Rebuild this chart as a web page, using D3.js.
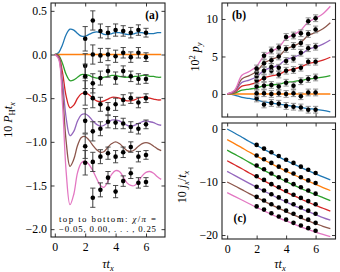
<!DOCTYPE html>
<html>
<head>
<meta charset="utf-8">
<script src="https://cdn.jsdelivr.net/npm/d3@7"></script>
<style>
    body { margin: 0; background: #fff; }
    svg text { font-family: "Liberation Serif", "DejaVu Serif", serif; fill: #000; }
    .tick text { font-size: 11.8px; }
</style>
</head>
<body>
<svg id="fig" width="340" height="272"></svg>
<script>
// colours, top to bottom chi/pi = -0.05 ... 0.25
const colors = ["#1f77b4", "#ff7f0e", "#2ca02c", "#d62728", "#9467bd", "#8c564b", "#e377c2"];

// panel (a): 10 P_H t_x
const gridA = [0, 0.25, 0.5, 0.75, 1, 1.25, 1.5, 1.75, 2, 2.25, 2.5, 2.75, 3, 3.25, 3.5, 3.75, 4, 4.25, 4.5, 4.75, 5, 5.25, 5.5, 5.75, 6, 6.25, 6.5, 6.75, 7];
const aBlue   = [0, 0.02, 0.11, 0.23, 0.29, 0.28, 0.24, 0.21, 0.21, 0.23, 0.25, 0.26, 0.25, 0.23, 0.23, 0.24, 0.25, 0.25, 0.24, 0.23, 0.23, 0.24, 0.25, 0.25, 0.24, 0.24, 0.24, 0.25, 0.25];
const aOrange = [0, 0, 0, 0, 0, 0, 0, 0, 0, 0, 0, 0, 0, 0, 0, 0, 0, 0, 0, 0, 0, 0, 0, 0, 0, 0, 0, 0, 0];
const aGreen  = [0, -0.01, -0.1, -0.23, -0.3, -0.29, -0.26, -0.23, -0.23, -0.24, -0.26, -0.27, -0.27, -0.26, -0.25, -0.24, -0.24, -0.25, -0.26, -0.26, -0.26, -0.25, -0.25, -0.24, -0.24, -0.25, -0.25, -0.26, -0.26];
const aRed    = [0, -0.02, -0.2, -0.48, -0.61, -0.58, -0.5, -0.45, -0.44, -0.46, -0.5, -0.53, -0.54, -0.53, -0.51, -0.49, -0.49, -0.5, -0.52, -0.53, -0.53, -0.52, -0.5, -0.49, -0.49, -0.5, -0.51, -0.52, -0.52];
const aPurple = [0, -0.03, -0.3, -0.73, -0.93, -0.88, -0.76, -0.69, -0.68, -0.71, -0.76, -0.8, -0.82, -0.81, -0.78, -0.75, -0.75, -0.76, -0.79, -0.81, -0.82, -0.81, -0.79, -0.77, -0.76, -0.77, -0.78, -0.8, -0.81];
const aBrown  = [0, -0.04, -0.42, -1.0, -1.28, -1.2, -1.04, -0.95, -0.94, -0.98, -1.04, -1.09, -1.12, -1.11, -1.06, -1.02, -1.0, -1.02, -1.06, -1.1, -1.11, -1.09, -1.05, -1.02, -1.01, -1.02, -1.05, -1.08, -1.1];
const aPink   = [0, -0.05, -0.55, -1.35, -1.72, -1.6, -1.35, -1.24, -1.22, -1.26, -1.33, -1.42, -1.5, -1.52, -1.45, -1.37, -1.33, -1.34, -1.4, -1.47, -1.5, -1.5, -1.45, -1.39, -1.35, -1.34, -1.36, -1.4, -1.43];

const ptX = [2, 2.5, 3, 3.5, 4, 4.5, 5, 5.5, 6];
const aPtBlue   = [0.18, 0.39, 0.27, 0.25, 0.28, 0.27, 0.25, 0.28, 0.25];
const aPtOrange = [-0.13, 0.0, -0.01, 0.0, -0.02, 0.02, -0.03, 0.02, -0.03];
const aPtGreen  = [-0.25, -0.33, -0.27, -0.19, -0.27, -0.19, -0.25, -0.28, -0.28];
const aPtRed    = [-0.44, -0.5, -0.57, -0.62, -0.57, -0.52, -0.5, -0.55, -0.5];
const aPtPurple = [-0.76, -0.88, -0.85, -0.77, -0.78, -0.79, -0.83, -0.85, -0.8];
const aPtBrown  = [-1.05, -1.23, -1.17, -1.13, -1.17, -1.12, -1.06, -1.17, -1.15];
const aPtPink   = [-1.24, -1.64, -1.55, -1.41, -1.57, -1.45, -1.36, -1.47, -1.46];
const aErr      = [0.14, 0.11, 0.08, 0.07, 0.07, 0.06, 0.06, 0.06, 0.05];

// panel (b): 10^2 p_y
const gridBC = [0, 0.5, 1, 1.5, 2, 2.5, 3, 3.5, 4, 4.5, 5, 5.5, 6, 6.5, 7];
const bBlue   = [0, -0.15, -0.45, -0.6, -0.8, -1.05, -1.2, -1.35, -1.5, -1.65, -1.8, -1.95, -2.05, -2.2, -2.4];
const bOrange = [0, 0, 0, 0, 0, 0, 0, 0, 0, 0, 0, 0, 0, 0, 0];
const bGreen  = [0, 0.1, 0.5, 0.65, 0.8, 1.1, 1.2, 1.3, 1.55, 1.65, 1.8, 2.0, 2.1, 2.25, 2.45];
const bRed    = [0, 0.2, 1.05, 1.25, 1.55, 2.15, 2.4, 2.6, 3.1, 3.3, 3.6, 4.05, 4.25, 4.5, 4.9];
const bPurple = [0, 0.3, 1.55, 1.85, 2.3, 3.15, 3.5, 3.85, 4.6, 4.9, 5.3, 5.95, 6.25, 6.65, 7.2];
const bBrown  = [0, 0.4, 2.0, 2.45, 3.0, 4.1, 4.6, 5.0, 6.0, 6.4, 6.9, 7.8, 8.2, 8.7, 9.5];
const bPink   = [0, 0.5, 2.5, 3.0, 3.7, 5.1, 5.7, 6.2, 7.4, 7.9, 8.5, 9.6, 10.1, 10.7, 11.7];

const bPtBlue   = [-0.6, -1.4, -1.2, -1.3, -1.6, -1.7, -1.8, -2.1, -2.1];
const bPtOrange = [0.1, 0.1, 0.0, 0.1, 0.0, 0.1, -0.3, 0.2, 0.2];
const bPtGreen  = [1.0, 1.1, 1.2, 1.0, 1.5, 1.1, 1.7, 2.0, 2.2];
const bPtRed    = [1.8, 2.1, 3.1, 2.6, 3.1, 3.2, 3.5, 4.3, 4.3];
const bPtPurple = [2.4, 3.1, 3.6, 3.5, 4.4, 4.7, 5.5, 6.1, 6.3];
const bPtBrown  = [2.9, 4.1, 4.5, 5.0, 6.0, 6.4, 6.8, 8.0, 8.6];
const bPtPink   = [3.4, 5.1, 5.8, 6.2, 7.6, 7.8, 8.1, 9.7, 10.1];
const bErr      = [0.45, 0.45, 0.45, 0.45, 0.45, 0.45, 0.45, 0.45, 0.45];

// panel (c): 10 j_x / t_x
const cBlue   = [0, -0.75, -1.55, -2.35, -3.1, -3.85, -4.55, -5.25, -5.95, -6.6, -7.25, -7.85, -8.45, -9.05, -9.6];
const cOrange = [-2, -2.75, -3.55, -4.35, -5.1, -5.85, -6.55, -7.25, -7.95, -8.6, -9.25, -9.85, -10.45, -11.05, -11.6];
const cGreen  = [-4, -4.75, -5.5, -6.3, -7.05, -7.8, -8.5, -9.2, -9.9, -10.55, -11.2, -11.8, -12.4, -12.95, -13.5];
const cRed    = [-6, -6.75, -7.5, -8.3, -9.05, -9.8, -10.5, -11.2, -11.9, -12.55, -13.2, -13.8, -14.4, -14.95, -15.5];
const cPurple = [-8, -8.75, -9.5, -10.25, -11.0, -11.7, -12.4, -13.1, -13.75, -14.4, -15.0, -15.6, -16.15, -16.7, -17.2];
const cBrown  = [-10, -10.7, -11.45, -12.2, -12.9, -13.6, -14.3, -14.95, -15.6, -16.2, -16.8, -17.35, -17.85, -18.35, -18.8];
const cPink   = [-12, -12.7, -13.4, -14.1, -14.8, -15.45, -16.1, -16.75, -17.35, -17.9, -18.45, -18.95, -19.45, -19.9, -20.3];

const cPtBlue   = [-3.0, -3.7, -4.4, -5.1, -5.8, -6.4, -7.1, -7.7, -8.3];
const cPtOrange = [-5.0, -5.7, -6.4, -7.1, -7.8, -8.4, -9.1, -9.7, -10.2];
const cPtGreen  = [-6.9, -7.6, -8.4, -9.1, -9.7, -10.4, -11.0, -11.6, -12.2];
const cPtRed    = [-8.9, -9.6, -10.4, -11.0, -11.7, -12.4, -13.0, -13.6, -14.2];
const cPtPurple = [-10.9, -11.6, -12.3, -12.9, -13.6, -14.2, -14.8, -15.4, -16.0];
const cPtBrown  = [-12.8, -13.5, -14.2, -14.8, -15.4, -16.0, -16.6, -17.1, -17.7];
const cPtPink   = [-14.6, -15.2, -15.9, -16.5, -17.1, -17.7, -18.2, -18.7, -19.2];

const svg = d3.select("#fig")

function panel(o) {
    let x = d3.scaleLinear().domain(o.xdom).range([o.left, o.right])
    let y = d3.scaleLinear().domain(o.ydom).range([o.bottom, o.top])
    let g = svg.append("g")

    let line = d3.line()
        .x((d, i) => x(o.grid[i]))
        .y(d => y(d))
        .curve(d3.curveCatmullRom.alpha(0.5))

    o.curves.forEach((c, k) => {
        g.append("path")
            .attr("d", line(c))
            .attr("fill", "none")
            .attr("stroke", colors[k])
            .attr("stroke-width", 1.3)
    })

    o.points.forEach(p => {
        if (o.err) {
            p.forEach((v, i) => {
                let e = o.err[i]
                let xx = x(ptX[i])
                g.append("line").attr("x1", xx).attr("x2", xx)
                    .attr("y1", y(v - e)).attr("y2", y(v + e))
                    .attr("stroke", o.errColor).attr("stroke-width", o.errWidth)
                ;[v - e, v + e].forEach(w => {
                    g.append("line").attr("x1", xx - 2.6).attr("x2", xx + 2.6)
                        .attr("y1", y(w)).attr("y2", y(w))
                        .attr("stroke", o.errColor).attr("stroke-width", 0.9)
                })
            })
        }
        g.selectAll(null).data(p).enter().append("circle")
            .attr("cx", (d, i) => x(ptX[i]))
            .attr("cy", d => y(d))
            .attr("r", 2.3)
            .attr("fill", "#000")
    })

    // axes, ticks pointing in on all four sides
    let ax = [
        [d3.axisBottom(x).tickValues([0, 2, 4, 6]), o.bottom, true, o.xlabels],
        [d3.axisTop(x).tickValues([0, 2, 4, 6]), o.top, true, false],
        [d3.axisLeft(y).tickValues(o.yticks), o.left, false, true],
        [d3.axisRight(y).tickValues(o.yticks), o.right, false, false]
    ]
    ax.forEach(([a, pos, horiz, labels]) => {
        a.tickSize(-3.5).tickPadding(horiz ? 6 : 4)
        if (!labels) a.tickFormat("")
        else if (!horiz) a.tickFormat(o.yfmt)
        let ga = g.append("g")
            .attr("transform", horiz ? `translate(0,${pos})` : `translate(${pos},0)`)
            .call(a)
        ga.select(".domain").remove()
        ga.selectAll(".tick line").attr("stroke", "#222").attr("stroke-width", 0.9)
        ga.selectAll(".tick text").attr("font-family", null).attr("font-size", null)
    })

    g.append("rect")
        .attr("x", o.left).attr("y", o.top)
        .attr("width", o.right - o.left).attr("height", o.bottom - o.top)
        .attr("fill", "none").attr("stroke", "#222").attr("stroke-width", 1.1)

    return g
}

// math-ish label from parts
function mathText(sel, parts) {
    let shift = 0
    parts.forEach(p => {
        let ts = sel.append("tspan").text(p.t)
        if (p.it) ts.attr("font-style", "italic")
        let want = p.sub ? 3 : p.sup ? -4.5 : 0
        if (want !== shift) { ts.attr("dy", want - shift); shift = want }
        if (p.sub || p.sup) ts.attr("font-size", "8.5px")
    })
}

panel({
    left: 51, right: 165, top: 3, bottom: 237,
    xdom: [-0.25, 7.25], ydom: [-2.09, 0.59],
    yticks: [0.5, 0, -0.5, -1, -1.5, -2], yfmt: d3.format(".1f"),
    xlabels: true, grid: gridA,
    curves: [aBlue, aOrange, aGreen, aRed, aPurple, aBrown, aPink],
    points: [aPtBlue, aPtOrange, aPtGreen, aPtRed, aPtPurple, aPtBrown, aPtPink],
    err: aErr, errColor: "#3a3a3a", errWidth: 1
})

panel({
    left: 222, right: 335.5, top: 3, bottom: 117,
    xdom: [-0.35, 7.35], ydom: [-3.07, 12.13],
    yticks: [0, 5, 10], yfmt: d3.format("d"),
    xlabels: false, grid: gridBC,
    curves: [bBlue, bOrange, bGreen, bRed, bPurple, bBrown, bPink],
    points: [bPtBlue, bPtOrange, bPtGreen, bPtRed, bPtPurple, bPtBrown, bPtPink],
    err: bErr, errColor: "#8a8a8a", errWidth: 1.6
})

panel({
    left: 222, right: 335.5, top: 123, bottom: 239,
    xdom: [-0.35, 7.35], ydom: [-20.75, 1.13],
    yticks: [0, -10, -20], yfmt: d3.format("d"),
    xlabels: true, grid: gridBC,
    curves: [cBlue, cOrange, cGreen, cRed, cPurple, cBrown, cPink],
    points: [cPtBlue, cPtOrange, cPtGreen, cPtRed, cPtPurple, cPtBrown, cPtPink],
    err: null
})

// panel letters
svg.append("text").attr("x", 152).attr("y", 19).attr("text-anchor", "middle")
    .attr("font-size", "11.5px").attr("font-weight", "bold").text("(a)")
svg.append("text").attr("x", 239).attr("y", 19).attr("text-anchor", "middle")
    .attr("font-size", "11.5px").attr("font-weight", "bold").text("(b)")
svg.append("text").attr("x", 240).attr("y", 222).attr("text-anchor", "middle")
    .attr("font-size", "11.5px").attr("font-weight", "bold").text("(c)")

// note inside (a)
let note = svg.append("text").attr("x", 59).attr("y", 222)
    .attr("font-size", "8.8px").attr("textLength", 97).attr("lengthAdjust", "spacing")
mathText(note, [{t: "top to bottom: "}, {t: "χ", it: true}, {t: "/"}, {t: "π", it: true}, {t: " ="}])
svg.append("text").attr("x", 59).attr("y", 231.5)
    .attr("font-size", "8.8px").attr("textLength", 97).attr("lengthAdjust", "spacing")
    .text("−0.05, 0.00, . . . , 0.25")

// axis labels
let ya = svg.append("text").attr("transform", "translate(12,120) rotate(-90)")
    .attr("text-anchor", "middle").attr("font-size", "12px")
mathText(ya, [{t: "10 "}, {t: "P", it: true}, {t: "H", sub: true}, {t: "t", it: true}, {t: "x", it: true, sub: true}])

let yb = svg.append("text").attr("transform", "translate(199,57) rotate(-90)")
    .attr("text-anchor", "middle").attr("font-size", "12px")
mathText(yb, [{t: "10"}, {t: "2", sup: true}, {t: " "}, {t: "p", it: true}, {t: "y", it: true, sub: true}])

let yc = svg.append("text").attr("transform", "translate(186,187) rotate(-90)")
    .attr("text-anchor", "middle").attr("font-size", "12px")
mathText(yc, [{t: "10 "}, {t: "j", it: true}, {t: "x", it: true, sub: true}, {t: "/"}, {t: "t", it: true}, {t: "x", it: true, sub: true}])

;[108, 280].forEach(cx => {
    let xl = svg.append("text").attr("x", cx).attr("y", 268).attr("text-anchor", "middle")
        .attr("font-size", "12px")
    mathText(xl, [{t: "τt", it: true}, {t: "x", it: true, sub: true}])
})
</script>
</body>
</html>
